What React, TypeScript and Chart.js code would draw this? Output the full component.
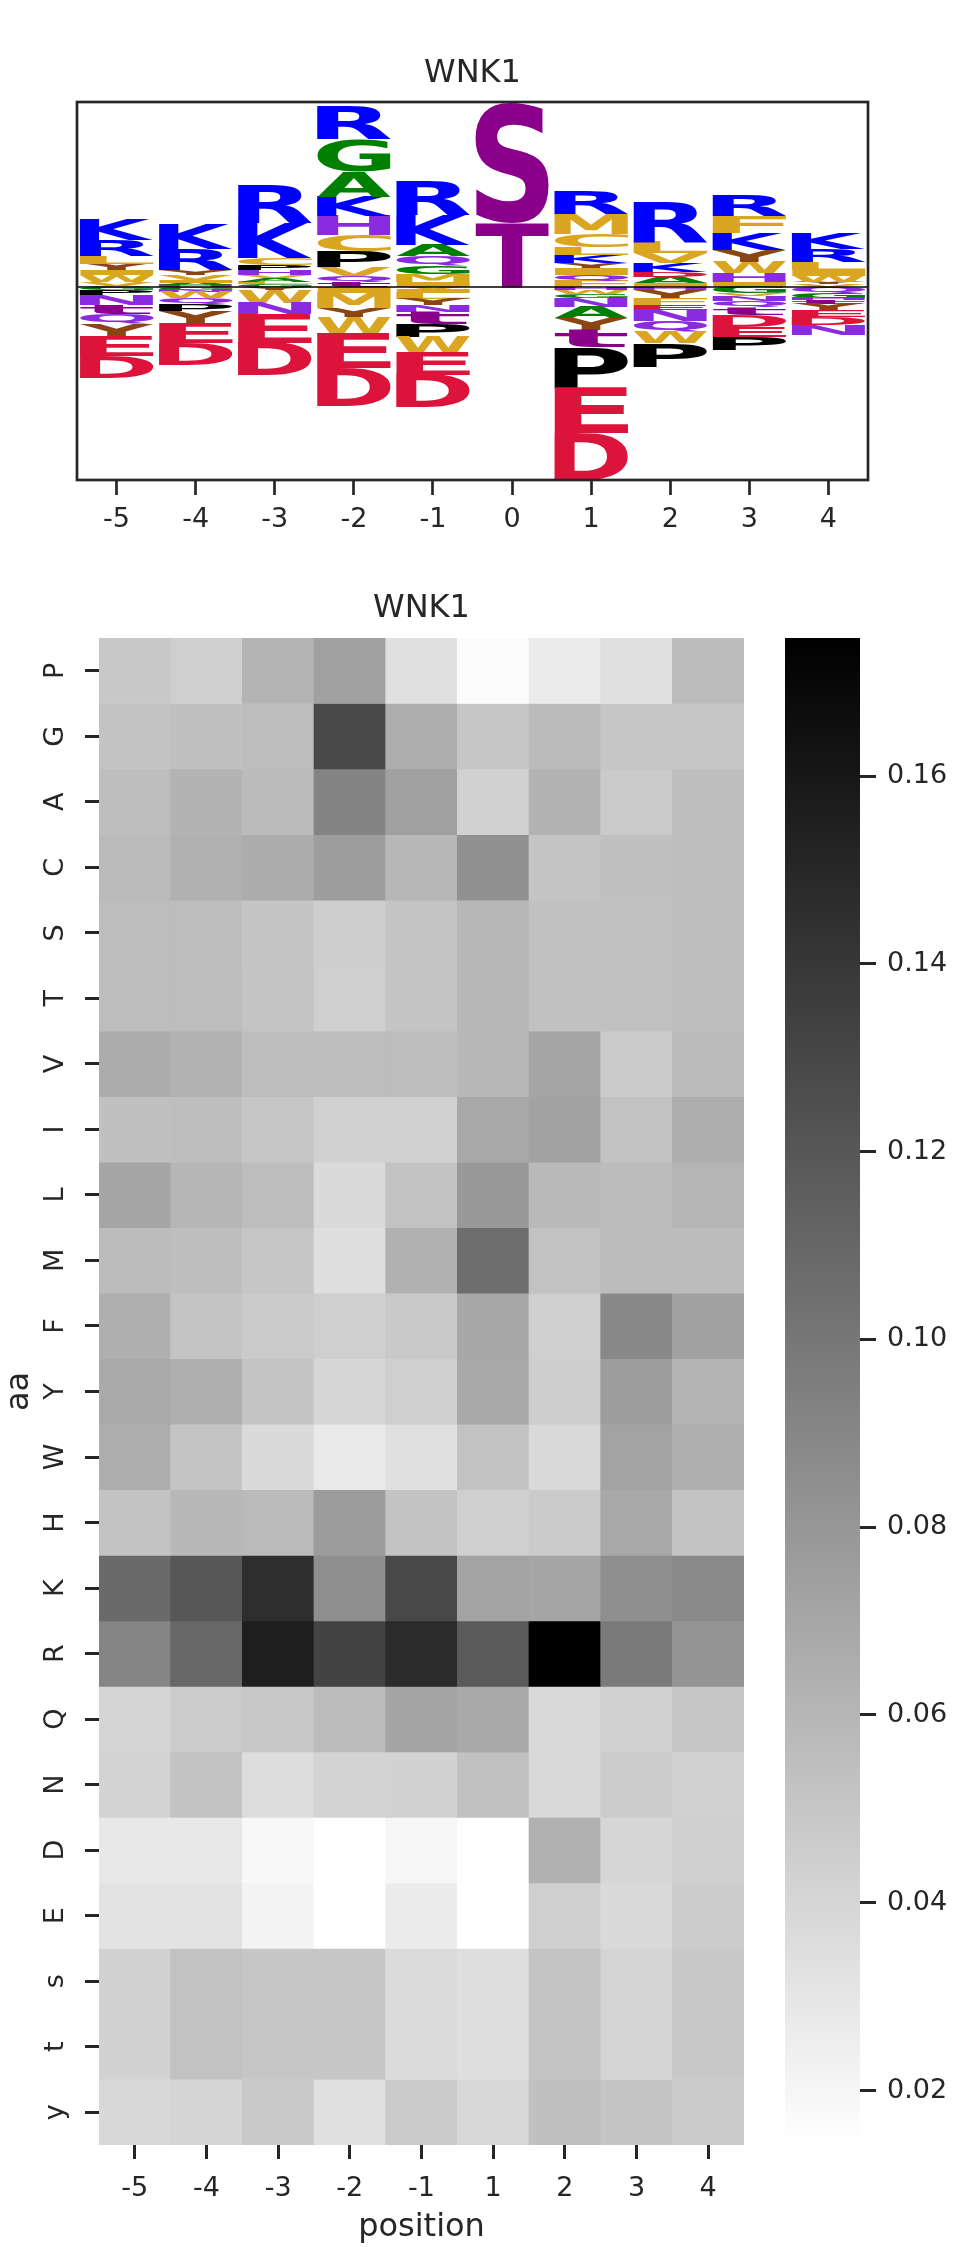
import { useEffect, useRef } from "react";
import Chart from "chart.js/auto";

type Glyph = [string, number];

const FONT = "'DejaVu Sans', sans-serif";
const INK = "#262626";
const TICK_SIZE = 27;
const LABEL_SIZE = 32;

Chart.defaults.font.family = FONT;
Chart.defaults.color = INK;

// ---- sequence logo (heights in arbitrary units, listed from the zero line outward)
const logoPositions = ["-5", "-4", "-3", "-2", "-1", "0", "1", "2", "3", "4"];
const LOGO_MIN = -1.93;
const LOGO_MAX = 1.85;

const upM5: Glyph[] = [["A", 0.01], ["V", 0.04], ["W", 0.07], ["I", 0.05], ["Y", 0.06], ["L", 0.08], ["R", 0.16], ["K", 0.21]];
const upM4: Glyph[] = [["H", 0.02], ["A", 0.02], ["I", 0.03], ["V", 0.05], ["Y", 0.05], ["R", 0.21], ["K", 0.25]];
const upM3: Glyph[] = [["G", 0.03], ["L", 0.02], ["A", 0.04], ["V", 0.03], ["H", 0.05], ["P", 0.05], ["C", 0.07], ["K", 0.35], ["R", 0.37]];
const upM2: Glyph[] = [["t", 0.05], ["Q", 0.06], ["V", 0.09], ["P", 0.16], ["C", 0.16], ["H", 0.19], ["K", 0.19], ["A", 0.25], ["G", 0.33], ["R", 0.33]];
const upM1: Glyph[] = [["I", 0.05], ["M", 0.08], ["G", 0.08], ["Q", 0.1], ["A", 0.11], ["K", 0.3], ["R", 0.34]];
const upP0: Glyph[] = [["T", 0.64], ["S", 1.2]];
const upP1: Glyph[] = [["F", 0.06], ["Q", 0.06], ["I", 0.07], ["Y", 0.05], ["K", 0.08], ["L", 0.08], ["C", 0.13], ["M", 0.2], ["R", 0.23]];
const upP2: Glyph[] = [["I", 0.04], ["A", 0.06], ["D", 0.05], ["K", 0.09], ["V", 0.1], ["L", 0.11], ["R", 0.4]];
const upP3: Glyph[] = [["I", 0.05], ["H", 0.09], ["W", 0.11], ["Y", 0.12], ["K", 0.17], ["F", 0.17], ["R", 0.21]];
const upP4: Glyph[] = [["V", 0.03], ["Y", 0.02], ["W", 0.06], ["I", 0.06], ["L", 0.08], ["R", 0.13], ["K", 0.16]];

const downM5: Glyph[] = [["G", 0.03], ["P", 0.05], ["N", 0.1], ["t", 0.09], ["Q", 0.1], ["Y", 0.13], ["E", 0.19], ["D", 0.22]];
const downM4: Glyph[] = [["G", 0.03], ["N", 0.02], ["W", 0.06], ["Q", 0.06], ["P", 0.07], ["Y", 0.12], ["E", 0.2], ["D", 0.22]];
const downM3: Glyph[] = [["Y", 0.03], ["W", 0.13], ["N", 0.11], ["E", 0.29], ["D", 0.32]];
const downM2: Glyph[] = [["I", 0.06], ["M", 0.15], ["Y", 0.09], ["W", 0.16], ["E", 0.35], ["D", 0.38]];
const downM1: Glyph[] = [["V", 0.02], ["I", 0.04], ["L", 0.06], ["Y", 0.06], ["N", 0.07], ["t", 0.12], ["P", 0.13], ["W", 0.15], ["E", 0.23], ["D", 0.32]];
const downP0: Glyph[] = [];
const downP1: Glyph[] = [["H", 0.03], ["W", 0.04], ["G", 0.04], ["N", 0.09], ["A", 0.11], ["Y", 0.12], ["t", 0.17], ["P", 0.41], ["E", 0.45], ["D", 0.47]];
const downP2: Glyph[] = [["H", 0.03], ["Y", 0.09], ["F", 0.06], ["E", 0.05], ["N", 0.11], ["Q", 0.11], ["W", 0.11], ["P", 0.24]];
const downP3: Glyph[] = [["G", 0.06], ["V", 0.03], ["N", 0.05], ["Q", 0.06], ["t", 0.08], ["D", 0.12], ["E", 0.1], ["P", 0.13]];
const downP4: Glyph[] = [["Q", 0.06], ["G", 0.05], ["H", 0.02], ["t", 0.04], ["Y", 0.06], ["E", 0.07], ["D", 0.08], ["N", 0.1]];

const logoUp = [upM5, upM4, upM3, upM2, upM1, upP0, upP1, upP2, upP3, upP4];
const logoDown = [downM5, downM4, downM3, downM2, downM1, downP0, downP1, downP2, downP3, downP4];

const aaColors: Record<string, string> = {
  K: "#0000ff", R: "#0000ff",
  G: "#008000", A: "#008000",
  P: "#000000",
  C: "#daa520", V: "#daa520", I: "#daa520", L: "#daa520", M: "#daa520", F: "#daa520", W: "#daa520",
  Y: "#8b4513", y: "#8b4513",
  H: "#8a2be2", N: "#8a2be2", Q: "#8a2be2",
  D: "#dc143c", E: "#dc143c",
  S: "#8b008b", T: "#8b008b", s: "#8b008b", t: "#8b008b",
};

// ---- heatmap (frequency per residue and position)
const heatPositions = ["-5", "-4", "-3", "-2", "-1", "1", "2", "3", "4"];
const residues = ["P", "G", "A", "C", "S", "T", "V", "I", "L", "M", "F", "Y", "W", "H", "K", "R", "Q", "N", "D", "E", "s", "t", "y"];

const rowP = [0.0488, 0.0444, 0.0614, 0.074, 0.0337, 0.0167, 0.0268, 0.0337, 0.0564];
const rowG = [0.052, 0.0539, 0.0557, 0.1294, 0.0658, 0.0501, 0.057, 0.0501, 0.0501];
const rowA = [0.0551, 0.062, 0.057, 0.0916, 0.074, 0.0432, 0.062, 0.0476, 0.0551];
const rowC = [0.0576, 0.0633, 0.0664, 0.0759, 0.0595, 0.0834, 0.0507, 0.0539, 0.0557];
const rowS = [0.0557, 0.0557, 0.0507, 0.045, 0.0513, 0.0595, 0.0532, 0.0532, 0.0551];
const rowT = [0.0557, 0.0557, 0.0513, 0.0444, 0.0513, 0.0595, 0.0532, 0.0532, 0.0551];
const rowV = [0.0664, 0.0627, 0.0551, 0.0557, 0.0557, 0.0589, 0.0708, 0.0469, 0.0576];
const rowI = [0.0539, 0.0551, 0.0501, 0.0432, 0.0432, 0.0683, 0.0727, 0.0526, 0.0658];
const rowL = [0.0708, 0.0601, 0.0557, 0.0375, 0.0526, 0.0784, 0.0583, 0.0564, 0.0608];
const rowM = [0.0564, 0.0551, 0.0501, 0.0343, 0.0633, 0.1055, 0.0526, 0.0564, 0.0564];
const rowF = [0.0646, 0.0513, 0.0476, 0.0444, 0.0482, 0.0696, 0.0444, 0.0891, 0.0734];
const rowY = [0.0677, 0.0646, 0.0513, 0.04, 0.0444, 0.069, 0.045, 0.0759, 0.0614];
const rowW = [0.0658, 0.0513, 0.0375, 0.028, 0.0337, 0.0526, 0.0381, 0.0721, 0.0646];
const rowH = [0.052, 0.0589, 0.0576, 0.0765, 0.052, 0.0444, 0.0469, 0.069, 0.052];
const rowK = [0.108, 0.1199, 0.1457, 0.0847, 0.1294, 0.0721, 0.0702, 0.0847, 0.0885];
const rowR = [0.091, 0.1092, 0.1558, 0.1325, 0.1476, 0.1181, 0.1747, 0.0979, 0.0815];
const rowQ = [0.0406, 0.0463, 0.0494, 0.0564, 0.0715, 0.0683, 0.0381, 0.0432, 0.0501];
const rowN = [0.0419, 0.052, 0.0356, 0.0419, 0.0425, 0.0532, 0.0381, 0.0463, 0.0432];
const rowD = [0.0287, 0.0287, 0.0186, 0.0142, 0.0199, 0.0142, 0.0633, 0.04, 0.0444];
const rowE = [0.0318, 0.0318, 0.0218, 0.0142, 0.0262, 0.0142, 0.0444, 0.0375, 0.0463];
const rows = [0.0425, 0.0526, 0.0501, 0.0501, 0.0369, 0.035, 0.0513, 0.0413, 0.0488];
const rowt = [0.0425, 0.0526, 0.0501, 0.0501, 0.0369, 0.035, 0.0513, 0.0413, 0.0488];
const rowy = [0.0387, 0.0406, 0.0482, 0.0337, 0.0469, 0.0394, 0.0539, 0.0507, 0.0469];

const heatRows = [rowP, rowG, rowA, rowC, rowS, rowT, rowV, rowI, rowL, rowM, rowF, rowY, rowW, rowH, rowK, rowR, rowQ, rowN, rowD, rowE, rows, rowt, rowy];
const colorbarTicks = [0.02, 0.04, 0.06, 0.08, 0.1, 0.12, 0.14, 0.16];

const HEAT_MIN = Math.min(...heatRows.flat());
const HEAT_MAX = Math.max(...heatRows.flat());

const grayOf = (v: number) => {
  const t = Math.min(1, Math.max(0, (v - HEAT_MIN) / (HEAT_MAX - HEAT_MIN)));
  const g = Math.round(255 * (1 - t));
  return `rgb(${g},${g},${g})`;
};

function drawGlyph(ctx: CanvasRenderingContext2D, letter: string, x: number, y: number, w: number, h: number) {
  ctx.save();
  ctx.font = `bold 200px ${FONT}`;
  const m = ctx.measureText(letter);
  const gw = m.actualBoundingBoxLeft + m.actualBoundingBoxRight;
  const gh = m.actualBoundingBoxAscent + m.actualBoundingBoxDescent;
  ctx.translate(x, y);
  ctx.scale(w / gw, h / gh);
  ctx.fillStyle = aaColors[letter] || "#000";
  ctx.textAlign = "left";
  ctx.textBaseline = "alphabetic";
  ctx.fillText(letter, m.actualBoundingBoxLeft, m.actualBoundingBoxAscent);
  ctx.restore();
}

// title centred over the plot area (not the whole canvas)
const areaTitle = {
  id: "areaTitle",
  afterDraw(chart: any, _args: any, opts: any) {
    if (!opts || !opts.text) return;
    const { left, right } = chart.chartArea;
    const ctx = chart.ctx as CanvasRenderingContext2D;
    ctx.save();
    ctx.font = `${LABEL_SIZE}px ${FONT}`;
    ctx.fillStyle = INK;
    ctx.textAlign = "center";
    ctx.textBaseline = "middle";
    ctx.fillText(opts.text, (left + right) / 2, opts.y);
    ctx.restore();
  },
};

const logoPlugin = {
  id: "logoLetters",
  afterDatasetsDraw(chart: any) {
    const ctx = chart.ctx as CanvasRenderingContext2D;
    chart.data.datasets.forEach((ds: any, di: number) => {
      chart.getDatasetMeta(di).data.forEach((bar: any, i: number) => {
        const letter = ds.letters[i];
        if (!letter || ds.data[i] == null) return;
        const { x, y, base, width } = bar.getProps(["x", "y", "base", "width"], true);
        const h = Math.abs(base - y);
        if (h < 0.3) return;
        drawGlyph(ctx, letter, x - width / 2, Math.min(y, base), width, h);
      });
    });
    const { left, right, top, bottom } = chart.chartArea;
    const zero = chart.scales.y.getPixelForValue(0);
    ctx.save();
    ctx.strokeStyle = "#000";
    ctx.lineWidth = 1.3;
    ctx.beginPath();
    ctx.moveTo(left, zero);
    ctx.lineTo(right, zero);
    ctx.stroke();
    ctx.strokeStyle = INK;
    ctx.lineWidth = 2.7;
    ctx.strokeRect(left, top, right - left, bottom - top);
    ctx.restore();
  },
};

const LogoChart = () => {
  const ref = useRef<HTMLCanvasElement>(null);

  useEffect(() => {
    if (!ref.current) return;
    const stackSets = (stacks: Glyph[][], sign: number) => {
      const depth = Math.max(...stacks.map((s) => s.length));
      return Array.from({ length: depth }, (_, lvl) => ({
        data: stacks.map((s) => (s[lvl] ? sign * s[lvl][1] : null)),
        letters: stacks.map((s) => (s[lvl] ? s[lvl][0] : null)),
        backgroundColor: "rgba(0,0,0,0)",
        borderWidth: 0,
        barPercentage: 0.93,
        categoryPercentage: 1,
        stack: "logo",
      }));
    };

    const chart = new Chart(ref.current, {
      type: "bar",
      data: {
        labels: logoPositions,
        datasets: [...stackSets(logoUp, 1), ...stackSets(logoDown, -1)] as any,
      },
      options: {
        animation: false,
        responsive: true,
        maintainAspectRatio: false,
        layout: { padding: { left: 77, right: 86, top: 102, bottom: 0 } },
        plugins: {
          legend: { display: false },
          tooltip: { enabled: false },
          title: { display: false },
          areaTitle: { text: "WNK1", y: 74 },
        } as any,
        scales: {
          x: {
            stacked: true,
            border: { display: false },
            grid: { offset: false, drawOnChartArea: false, tickLength: 15, tickWidth: 2.7, tickColor: INK },
            ticks: { color: INK, font: { size: TICK_SIZE }, padding: 9 },
            afterFit: (s: any) => { s.height = 80; },
          },
          y: { stacked: true, display: false, min: LOGO_MIN, max: LOGO_MAX },
        },
      },
      plugins: [logoPlugin, areaTitle],
    });

    return () => chart.destroy();
  }, []);

  return (
    <div style={{ position: "absolute", left: 0, top: 0, width: 954, height: 560 }}>
      <canvas ref={ref} />
    </div>
  );
};

const HeatmapChart = () => {
  const ref = useRef<HTMLCanvasElement>(null);

  useEffect(() => {
    if (!ref.current) return;
    const chart = new Chart(ref.current, {
      type: "bar",
      data: {
        labels: heatPositions,
        datasets: heatRows.map((row, r) => ({
          data: row.map(() => [r, r + 1]),
          backgroundColor: row.map(grayOf),
          borderWidth: 0,
          barPercentage: 1,
          categoryPercentage: 1,
          grouped: false,
        })) as any,
      },
      options: {
        animation: false,
        responsive: true,
        maintainAspectRatio: false,
        layout: { padding: { left: 0, right: 16, top: 78, bottom: 0 } },
        plugins: {
          legend: { display: false },
          tooltip: { enabled: false },
          title: { display: false },
          areaTitle: { text: "WNK1", y: 49 },
        } as any,
        scales: {
          x: {
            border: { display: false },
            grid: { offset: false, drawOnChartArea: false, tickLength: 14, tickWidth: 3, tickColor: INK },
            ticks: { color: INK, font: { size: TICK_SIZE }, padding: 14 },
            title: { display: true, text: "position", color: INK, font: { size: LABEL_SIZE }, padding: { top: 0, bottom: 0 } },
            afterFit: (s: any) => { s.height = 102; },
          },
          y: {
            type: "linear",
            min: 0,
            max: residues.length,
            reverse: true,
            border: { display: false },
            grid: { drawOnChartArea: false, tickLength: 14, tickWidth: 3, tickColor: INK },
            afterBuildTicks: (s: any) => {
              s.ticks = residues.map((_, i) => ({ value: i + 0.5 }));
            },
            ticks: {
              color: INK,
              font: { size: TICK_SIZE },
              padding: 16,
              minRotation: 90,
              maxRotation: 90,
              crossAlign: "center",
              callback: (_v: any, i: number) => residues[i],
            },
            title: { display: true, text: "aa", color: INK, font: { size: LABEL_SIZE }, padding: { top: 0, bottom: 0 } },
            afterFit: (s: any) => { s.width = 99; },
          },
        },
      },
      plugins: [areaTitle],
    });

    return () => chart.destroy();
  }, []);

  return (
    <div style={{ position: "absolute", left: 0, top: 560, width: 760, height: 1687 }}>
      <canvas ref={ref} />
    </div>
  );
};

const ColorBar = () => {
  const ref = useRef<HTMLCanvasElement>(null);

  useEffect(() => {
    if (!ref.current) return;
    const chart = new Chart(ref.current, {
      type: "bar",
      data: {
        labels: [""],
        datasets: [
          {
            data: [[HEAT_MIN, HEAT_MAX]] as any,
            backgroundColor: (c: any) => {
              const area = c.chart.chartArea;
              if (!area) return "#888";
              const g = c.chart.ctx.createLinearGradient(0, area.bottom, 0, area.top);
              g.addColorStop(0, "#ffffff");
              g.addColorStop(1, "#000000");
              return g;
            },
            borderWidth: 0,
            barPercentage: 1,
            categoryPercentage: 1,
          },
        ],
      },
      options: {
        animation: false,
        responsive: true,
        maintainAspectRatio: false,
        layout: { padding: { left: 25, right: 0, top: 78, bottom: 102 } },
        plugins: { legend: { display: false }, tooltip: { enabled: false } },
        scales: {
          x: { display: false },
          y: {
            type: "linear",
            position: "right",
            min: HEAT_MIN,
            max: HEAT_MAX,
            border: { display: false },
            grid: { drawOnChartArea: false, tickLength: 16, tickWidth: 3, tickColor: INK },
            afterBuildTicks: (s: any) => {
              s.ticks = colorbarTicks.map((v) => ({ value: v }));
            },
            ticks: { color: INK, font: { size: TICK_SIZE }, padding: 11, callback: (v: any) => Number(v).toFixed(2) },
            afterFit: (s: any) => { s.width = 94; },
          },
        },
      },
    });

    return () => chart.destroy();
  }, []);

  return (
    <div style={{ position: "absolute", left: 760, top: 560, width: 194, height: 1687 }}>
      <canvas ref={ref} />
    </div>
  );
};

export default function App() {
  return (
    <div style={{ position: "absolute", left: 0, top: 0, width: 954, height: 2247, background: "#fff" }}>
      <LogoChart />
      <HeatmapChart />
      <ColorBar />
    </div>
  );
}
